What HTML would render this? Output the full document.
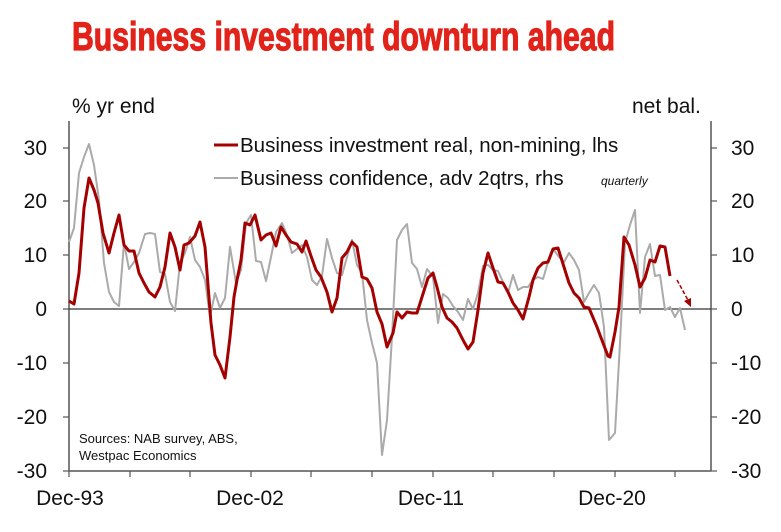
<!DOCTYPE html>
<html><head><meta charset="utf-8"><style>
html,body{margin:0;padding:0;background:#fff;}
svg{display:block;font-family:"Liberation Sans",sans-serif;}
</style></head><body>
<svg width="781" height="532" viewBox="0 0 781 532" xmlns="http://www.w3.org/2000/svg">
<text x="72" y="50" font-size="40" font-weight="bold" fill="#e2231a" stroke="#e2231a" stroke-width="1.2" textLength="543" lengthAdjust="spacingAndGlyphs">Business investment downturn ahead</text>
<text x="72" y="113" font-size="21" fill="#111">% yr end</text>
<text x="632" y="113" font-size="21" fill="#111">net bal.</text>
<line x1="69" y1="121" x2="69" y2="471" stroke="#555" stroke-width="1.5"/>
<line x1="711" y1="121" x2="711" y2="471" stroke="#555" stroke-width="1.5"/>
<line x1="69" y1="471" x2="711" y2="471" stroke="#555" stroke-width="1.5"/>
<line x1="69" y1="309" x2="711" y2="309" stroke="#333" stroke-width="1.2"/>
<g stroke="#555" stroke-width="1.2">
<line x1="63" y1="148" x2="69" y2="148"/><line x1="63" y1="201" x2="69" y2="201"/><line x1="63" y1="255" x2="69" y2="255"/><line x1="63" y1="309" x2="69" y2="309"/><line x1="63" y1="363" x2="69" y2="363"/><line x1="63" y1="417" x2="69" y2="417"/><line x1="63" y1="471" x2="69" y2="471"/>
<line x1="711" y1="148" x2="717" y2="148"/><line x1="711" y1="201" x2="717" y2="201"/><line x1="711" y1="255" x2="717" y2="255"/><line x1="711" y1="309" x2="717" y2="309"/><line x1="711" y1="363" x2="717" y2="363"/><line x1="711" y1="417" x2="717" y2="417"/><line x1="711" y1="471" x2="717" y2="471"/>
<line x1="69" y1="471" x2="69" y2="477"/><line x1="130" y1="471" x2="130" y2="477"/><line x1="190" y1="471" x2="190" y2="477"/><line x1="251" y1="471" x2="251" y2="477"/><line x1="311" y1="471" x2="311" y2="477"/><line x1="372" y1="471" x2="372" y2="477"/><line x1="433" y1="471" x2="433" y2="477"/><line x1="493" y1="471" x2="493" y2="477"/><line x1="554" y1="471" x2="554" y2="477"/><line x1="615" y1="471" x2="615" y2="477"/><line x1="675" y1="471" x2="675" y2="477"/>
</g>
<g font-size="21" fill="#111" text-anchor="end">
<text x="47" y="155">30</text><text x="47" y="208">20</text><text x="47" y="262">10</text><text x="47" y="316">0</text><text x="47" y="370">-10</text><text x="47" y="424">-20</text><text x="47" y="478">-30</text>
</g>
<g font-size="21" fill="#111">
<text x="731" y="155">30</text><text x="731" y="208">20</text><text x="731" y="262">10</text><text x="731" y="316">0</text><text x="731" y="370">-10</text><text x="731" y="424">-20</text><text x="731" y="478">-30</text>
</g>
<g font-size="21" fill="#111" text-anchor="middle">
<text x="70" y="505">Dec-93</text><text x="250" y="505">Dec-02</text><text x="431" y="505">Dec-11</text><text x="612" y="505">Dec-20</text>
</g>
<polyline fill="none" stroke="#aaaaaa" stroke-width="2" stroke-linejoin="round" points="69,242 74,228 79,173 84,157 89,144 94,165 99,200 104,263 109,292 114,302 119,306 124,243 129,269 134,262 139,253 145,234 150,233 155,234 160,272 165,274 170,302 175,311 180,263 185,253 190,237 195,260 200,267 205,280 210,317 215,293 220,308 225,298 230,247 236,283 241,270 246,223 251,215 256,261 261,262 266,281 271,257 276,232 282,223 287,235 292,253 297,249 302,245 307,257 312,280 317,285 322,276 327,239 332,258 337,273 342,275 347,257 352,240 357,265 362,273 367,320 372,343 377,363 382,455 387,420 392,337 397,240 402,230 407,224 412,263 417,269 422,287 427,269 433,277 438,323 443,294 448,298 453,306 458,312 463,320 468,299 473,309 478,293 483,266 488,265 493,270 498,271 503,282 508,293 513,275 518,290 523,287 528,287 533,280 538,277 543,279 548,262 553,249 559,257 564,262 569,253 574,260 579,270 584,302 589,293 594,285 599,293 604,327 609,440 615,433 620,343 625,243 630,225 635,210 640,313 645,257 650,244 655,276 660,275 665,310 670,307 675,317 680,308 685,330"/>
<polyline fill="none" stroke="#a50000" stroke-width="3" stroke-linejoin="round" points="69,301 74,304 79,273 84,208 89,178 94,190 98,203 103,233 109,253 114,233 119,215 124,245 129,251 134,251 139,273 144,283 149,292 155,297 160,287 165,267 170,233 175,247 180,270 184,245 189,243 195,236 200,222 205,247 211,323 215,355 220,365 225,378 230,337 234,297 237,280 241,260 245,223 250,225 255,215 261,240 266,235 271,233 276,246 281,227 286,235 291,242 297,244 302,252 306,241 311,256 316,270 321,277 327,292 332,312 337,298 342,258 347,252 352,242 357,247 362,277 367,279 372,288 377,312 382,324 387,347 393,333 397,312 402,318 407,312 412,313 417,313 422,297 428,278 433,273 437,287 442,307 447,318 452,322 457,328 463,340 468,349 473,342 478,310 483,273 488,253 493,268 498,282 503,283 508,292 513,303 518,310 523,319 529,297 533,280 538,268 543,263 548,262 553,249 558,248 564,267 569,283 574,293 579,298 584,307 589,308 597,327 603,343 608,356 610,357 615,332 619,307 624,237 629,245 635,265 640,287 645,278 650,260 655,262 660,246 665,247 670,276"/>
<line x1="677" y1="280" x2="689" y2="302" stroke="#a50000" stroke-width="1.5" stroke-dasharray="4,2"/>
<polygon points="691,307 684,301 691,298" fill="#a50000"/>
<line x1="214" y1="145" x2="238" y2="145" stroke="#a50000" stroke-width="3"/>
<text x="240" y="152" font-size="20.5" fill="#111">Business investment real, non-mining, lhs</text>
<line x1="214" y1="178" x2="238" y2="178" stroke="#aaaaaa" stroke-width="2"/>
<text x="240" y="185" font-size="20.5" fill="#111">Business confidence, adv 2qtrs, rhs</text>
<text x="601" y="185" font-size="12" font-style="italic" fill="#111">quarterly</text>
<text x="79" y="443" font-size="13" fill="#111">Sources: NAB survey, ABS,</text>
<text x="79" y="460" font-size="13" fill="#111">Westpac Economics</text>
</svg>
</body></html>
